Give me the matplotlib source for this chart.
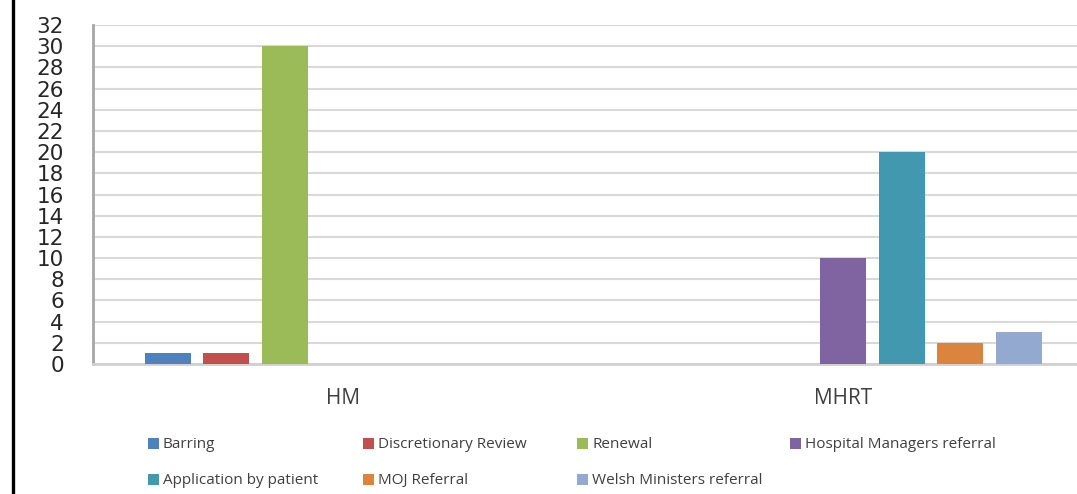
import numpy as np
import matplotlib.pyplot as plt
from matplotlib.patches import Rectangle
from matplotlib.lines import Line2D

# Referral counts by route and series
groups = ['HM', 'MHRT']
series = ['Barring', 'Discretionary Review', 'Renewal', 'Hospital Managers referral',
          'Application by patient', 'MOJ Referral', 'Welsh Ministers referral']
hm_values = [1, 1, 30, 0, 0, 0, 0]
mhrt_values = [0, 0, 0, 10, 20, 2, 3]
colors = ['#4F81BD', '#C0504D', '#9BBB59', '#8064A2', '#4198AF', '#DB843D', '#93A9CF']
y_ticks = list(range(0, 33, 2))

W, H = 1077, 494
fig = plt.figure(figsize=(W / 100, H / 100), dpi=100)
fig.patch.set_facecolor('white')

# plot area runs past the right edge of the figure
ax = fig.add_axes([93 / W, (H - 364) / H, 1000 / W, 339 / H])

values = np.array([hm_values, mhrt_values])
x = np.arange(len(groups))
slot = 0.117
width = 0.092
for i, (name, col) in enumerate(zip(series, colors)):
    ax.bar(x + (i - 3) * slot, values[:, i], width=width, color=col,
           edgecolor='none', zorder=3)

ax.set_xlim(-0.5, 1.5)
ax.set_ylim(0, 32)
ax.set_yticks(y_ticks)
ax.set_yticklabels([str(t) for t in y_ticks], fontsize=15.5, color='#262626',
                   family='DejaVu Sans')
ax.set_xticks(x)
ax.set_xticklabels(groups, fontsize=15, color='#404040', family='Open Sans')
ax.tick_params(axis='y', length=0, pad=21)
ax.tick_params(axis='x', length=0, pad=17)

ax.yaxis.grid(True, color='#d9d9d9', linewidth=1.5, zorder=0)
ax.set_axisbelow(True)
for side in ['top', 'right']:
    ax.spines[side].set_visible(False)
ax.spines['left'].set_color('#a6a6a6')
ax.spines['left'].set_linewidth(2)
ax.spines['bottom'].set_color('#d0d0d0')
ax.spines['bottom'].set_linewidth(2)

# legend laid out in equal-width columns, two rows
col_x = [148, 363, 577, 790]
row_y = [444, 480]
for i, (name, col) in enumerate(zip(series, colors)):
    px = col_x[i % 4]
    py = row_y[i // 4]
    fig.patches.append(Rectangle((px / W, (H - py - 5) / H), 11 / W, 11 / H,
                                 transform=fig.transFigure, facecolor=col,
                                 edgecolor='none'))
    fig.text((px + 15) / W, (H - py) / H, name, fontsize=11, color='#404040',
             family='Open Sans', va='center', ha='left')

# dark frame line down the left side
fig.add_artist(Line2D([13 / W, 13 / W], [0, 1], color='black', linewidth=2.4,
                      transform=fig.transFigure))

fig.savefig('out.png', dpi=100)
